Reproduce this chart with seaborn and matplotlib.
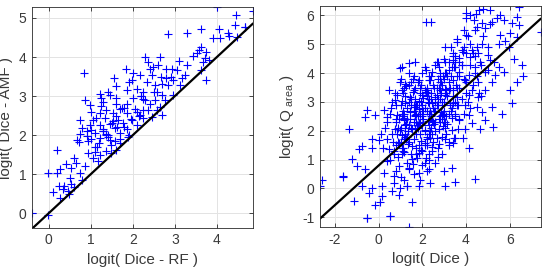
import numpy as np
import seaborn as sns
import matplotlib
matplotlib.use("Agg")
import matplotlib.pyplot as plt

# left panel: logit(Dice - RF) vs logit(Dice - AMF)
rf_x = [4.01, 4.86, 4.45, 4.43, 4.67, 4.06, 3.63, 3.28, 2.83, 4.27, 4.47, 4.28, 3.91, 4.07, 4.67,
        3.63, 3.58, 3.73, 3.52, 3.44, 2.30, 2.64, 3.72, 3.68, 3.82, 2.37, 2.49, 3.28, 0.84, 1.83,
        2.79, 2.94, 3.06, 3.62, 3.73, 2.00, 2.17, 2.45, 2.68, 2.80, 2.96, 3.16, 3.24, 1.97, 2.33,
        2.53, 2.84, 3.12, 1.61, 1.85, 2.09, 2.25, 2.57, 1.41, 1.21, 1.45, 2.70, 2.96, 0.86, 2.00,
        2.25, 2.53, 2.76, 0.98, 1.25, 1.59, 1.85, 2.41, 2.64, 1.37, 1.69, 2.05, 2.25, 2.57, 1.21,
        1.53, 1.85, 2.17, 2.45, 2.69, 0.74, 1.05, 1.33, 1.65, 1.97, 2.25, 0.98, 1.21, 1.45, 1.77,
        2.09, 0.78, 1.01, 1.29, 1.57, 1.85, 0.74, 1.09, 1.37, 1.69,
        0.20, 0.66, 0.72, 0.91, 0.93, 1.21, 1.45, 1.57, 1.69, 0.94, 1.09, 1.21, 1.37, 1.49, 1.61,
        1.17, 0.86, 0.42, 0.53, 0.64, 0.26, -0.02, 0.20, 0.74, 0.80, 0.53, 0.37, 0.59, 0.23, 0.34,
        0.46, 0.10, 0.26, 0.48, -0.40, -0.02,
        1.12, 1.30, 1.52, 1.75, 1.40, 1.62, 1.95, 1.15, 1.36, 1.78, 2.15, 1.05, 1.48, 1.88, 2.35,
        1.60, 1.90, 2.20, 1.30, 1.00,
        1.00, 1.20, 1.40, 1.60, 1.80, 1.10, 1.30, 1.50, 1.70, 1.90, 2.10, 2.30, 2.50, 2.70, 2.90,
        3.10, 2.20, 2.40, 2.60, 0.90, 0.60, 0.50, 1.25, 1.55]
amf_y = [5.29, 5.19, 5.08, 4.82, 4.78, 4.71, 4.73, 4.61, 4.58, 4.61, 4.52, 4.55, 4.48, 4.48, 4.76,
         4.26, 4.18, 4.14, 4.10, 4.03, 4.01, 4.01, 3.97, 3.88, 3.92, 3.86, 3.75, 3.79, 3.60, 3.69,
         3.69, 3.69, 3.67, 3.67, 3.41, 3.60, 3.54, 3.54, 3.50, 3.47, 3.41, 3.47, 3.54, 3.41, 3.37,
         3.28, 3.28, 3.28, 3.26, 3.15, 3.19, 3.11, 3.11, 3.11, 3.05, 3.03, 3.03, 3.03, 2.90, 2.95,
         2.92, 2.90, 2.90, 2.77, 2.75, 2.80, 2.80, 2.80, 2.73, 2.64, 2.68, 2.68, 2.64, 2.64, 2.56,
         2.56, 2.56, 2.52, 2.47, 2.52, 2.38, 2.38, 2.43, 2.38, 2.38, 2.43, 2.26, 2.26, 2.28, 2.31,
         2.26, 2.17, 2.13, 2.15, 2.17, 2.15, 2.04, 2.05, 2.04, 2.05,
         1.62, 1.87, 1.82, 1.97, 1.84, 1.92, 1.88, 1.84, 1.91, 1.55, 1.56, 1.50, 1.58, 1.55, 1.63,
         1.33, 1.21, 1.25, 1.16, 1.29, 1.12, 1.03, 1.03, 1.03, 0.86, 0.74, 0.69, 0.68, 0.69, 0.61,
         0.56, 0.54, 0.39, 0.49, 0.01, -0.06,
         2.45, 2.85, 2.35, 2.70, 1.95, 2.20, 2.40, 1.70, 2.00, 2.20, 2.50, 1.40, 1.75, 1.95, 2.65,
         2.95, 3.35, 3.00, 2.10, 1.90,
         2.60, 1.80, 2.00, 2.50, 2.70, 1.70, 2.10, 2.30, 1.80, 2.00, 2.60, 2.90, 3.10, 3.30, 3.50,
         3.90, 3.00, 3.70, 3.80, 2.10, 1.40, 0.90, 2.95, 3.45]

# right panel: logit(Dice) vs logit(Q_area)
dice_x = [2.18, 2.41, 4.77, 4.19, 4.48, 5.11, 5.57, 6.41, 6.33, 4.35, 4.00, 4.73, 5.19, 5.72, 6.10,
          6.41, 7.44, 4.42, 4.88, 5.57, 6.03, 6.33, 4.00, 3.58, 3.05, 4.73, 5.49, 5.95, 3.42, 3.88,
          4.27, 4.57, 5.03, 3.66, 4.19, 4.65, 5.11, 1.68, 1.37, 2.68, 3.05, 3.42, 1.07, 0.99, 2.14,
          2.75, 3.35, 3.81, 4.42, 5.49, 5.72, 6.56, 2.45, 3.05, 3.66, 4.12, 4.88, 5.34, 1.83, 2.29,
          2.83, 3.42, 3.96, 4.57, 5.19, 6.33, 0.99, 1.22, 0.46, 1.07, 1.68, 2.22, 2.75, 3.20, 3.66,
          4.27, 4.88, 6.03, 0.84, 1.45, 1.98, 2.60, 3.05, 3.58, 4.12, 4.57, 0.76, 0.23, -0.54, -0.61,
          -0.15, 0.38, -1.37, 1.22, 1.68, 2.29, 2.90, 3.42, 3.96, 4.50, 5.19, 6.10, 1.14, 1.68, 2.29,
          2.90, 3.50, 4.12, 4.73, 5.64, 1.14, 1.83, 2.45, 3.05, 3.66, 4.27, 4.88, 5.26, 4.65, 0.99,
          1.52, 2.14, 2.75, 3.35, 3.96,
          -2.70, -2.60, -1.63, -1.22, -0.99, -0.64, -0.89, -0.31, -0.31, 0.00, -1.14, -0.54, -0.15,
          0.08, 0.53, 1.37, 1.52, -0.77, -0.31, 0.13, -0.46, 0.13, 0.59, 0.91, 0.99, 1.30, 1.83,
          2.37, 3.05, 3.50, 4.42, 3.35, 2.98, 2.29, 4.12, 3.86, 3.42, 0.38, 0.23, 0.69, 1.14, 0.91,
          1.37, 1.83, 2.14, 1.52, 1.07, 1.83, 2.45, 2.90, 2.75, 2.14, 1.52, 0.91, 0.46, 0.69, 3.05,
          3.50, -0.77, -1.65, -0.55, 0.52,
          0.60, 0.80, 1.00, 1.10, 1.20, 1.30, 1.40, 1.50, 1.60, 1.70, 1.80, 1.90, 2.00, 2.10, 2.20,
          2.30, 2.40, 2.50, 2.60, 2.70, 2.80, 2.90, 3.00, 3.10, 3.20, 3.30, 3.40, 0.70, 0.90, 1.10,
          1.30, 1.50, 1.70, 1.90, 2.10, 2.30, 2.50, 2.70, 2.90, 3.10, 1.00, 1.20, 1.40, 1.60, 1.80,
          2.00, 2.20, 2.40, 2.60, 2.80, 3.00, 3.20, 3.40, 3.60, 3.80, 3.90, 4.10, 4.30, 4.40, 4.60,
          0.40, 0.50, 0.30, 0.20, 0.10, 0.60, 0.80, 1.05, 1.25, 1.45, 1.65, 1.85, 2.05, 2.25, 2.45,
          2.65, 2.85, 3.05, 3.25, 1.15, 1.35, 1.55, 1.75, 1.95, 2.15, 2.35, 2.55, 2.75, 2.95, 1.90,
          2.00, 2.10, 2.20, 2.30, 2.40, 1.60, 1.70, 1.50, 1.40, 1.30, 2.60, 2.70, 2.80, 2.90, 3.00,
          3.10, 3.30, 3.50, 3.70, 3.90, 4.00, 4.20, 4.50, 3.60, 3.50, 0.90, 0.75, 1.15, 1.95, 2.45,
          2.65, 3.15, 3.35, 3.45, 3.65, 1.85, 2.15, 2.35, 1.55, 1.25, 1.05, 0.85,
          0.55, 0.75, 0.95, 1.15, 1.35, 1.55, 1.75, 1.95, 2.15, 2.35, 2.55, 2.75, 2.95, 3.15, 3.35,
          3.55, 0.65, 0.85, 1.05, 1.25, 1.45, 1.65, 1.85, 2.05, 2.25, 2.45, 2.65, 2.85, 3.05, 3.25,
          3.45, 3.65, 1.00, 1.40, 1.80, 2.20, 2.60, 3.00, 3.40, 3.80, 1.20, 1.60, 2.00, 2.40, 2.80,
          3.20, 3.60, 4.00, 0.40, 0.80, 1.20, 1.60, 2.00, 2.40, 2.80, 3.20, 1.10, 1.50, 1.90, 2.30,
          2.70, 3.10, 3.50, 3.90, 4.30, 2.00, 2.50, 3.00, 3.50, 4.00, 4.50, 5.00, 1.70, 2.20, 2.70,
          3.20, 3.70, 4.20, 4.70,
          3.30, 3.60, 3.90, 4.20, 4.50, 4.80, 5.10, 3.50, 3.80, 4.10, 4.40, 4.70, 5.00, 5.30, 4.00,
          4.60, 5.40, 5.80, 6.20, 6.60, 3.20, 3.70,
          0.50, 0.80, 1.10, 1.40, 1.70, 2.00, 2.30, 2.60, 0.70, 1.00, 1.30, 1.60, 1.90, 2.20,
          0.90, 1.10, 1.30, 1.50, 1.70, 1.90, 2.10, 2.30, 2.50, 2.70, 2.90, 3.10, 0.80, 1.00, 1.20,
          1.40, 1.60, 1.80, 2.00, 2.20, 2.40, 2.60, 2.80, 3.00, 1.05, 1.35, 1.65, 1.95, 2.25, 2.55,
          2.85, 3.15, 1.15, 1.45, 1.75, 2.05, 2.35, 2.65, 2.95, 3.25]
qarea_y = [5.78, 5.78, 6.21, 6.02, 6.06, 6.19, 6.02, 6.31, 5.96, 5.84, 5.90, 5.73, 5.78, 5.84, 5.73,
           5.67, 5.44, 5.50, 5.55, 5.32, 5.38, 5.27, 5.32, 5.09, 4.92, 5.02, 5.02, 4.92, 4.69, 4.74,
           4.80, 4.69, 4.63, 4.51, 4.57, 4.40, 4.45, 4.40, 4.34, 4.40, 4.40, 4.45, 4.22, 4.17, 4.22,
           4.22, 4.22, 4.28, 4.22, 4.22, 4.05, 4.28, 4.05, 3.99, 4.05, 3.93, 4.05, 3.93, 3.76, 3.76,
           3.70, 3.76, 3.76, 3.70, 3.70, 3.70, 3.70, 3.64, 3.41, 3.41, 3.47, 3.41, 3.47, 3.41, 3.47,
           3.41, 3.41, 3.41, 3.24, 3.18, 3.24, 3.18, 3.24, 3.18, 3.24, 3.18, 3.07, 2.72, 2.72, 2.49,
           2.55, 2.49, 2.08, 2.95, 2.84, 2.95, 2.89, 2.95, 2.89, 2.84, 2.84, 2.95, 2.60, 2.55, 2.60,
           2.55, 2.60, 2.55, 2.66, 2.60, 2.37, 2.26, 2.37, 2.31, 2.37, 2.26, 2.37, 2.14, 2.08, 2.02,
           2.08, 2.02, 2.08, 2.02, 2.08,
           0.08, 0.28, 0.40, 1.01, 0.77, 0.66, 1.38, 1.42, 1.70, 1.67, -0.44, -1.02, -0.56,
           -0.48, -0.96, -1.34, -0.48, 0.08, 0.02, 0.08, -0.15, -0.27, -0.09, -0.21, 0.02, 0.08, 0.08,
           0.19, 0.08, 0.22, 0.33, 0.72, 0.60, 0.66, 1.41, 1.76, 1.59, 0.95, 0.54, 0.45, 0.31, 0.77,
           0.66, 0.54, 0.89, 1.01, 1.18, 1.24, 1.30, 1.18, 1.53, 1.59, 1.47, 1.59, 1.36, 1.18, 1.70,
           1.76, 1.47, 0.43, -1.02, -0.94,
           1.90, 2.30, 1.60, 2.70, 1.90, 2.40, 3.00, 2.10, 1.70, 2.90, 2.50, 3.30, 2.20, 2.80, 1.80,
           3.10, 2.50, 3.60, 2.00, 2.90, 3.40, 2.40, 3.00, 1.90, 3.70, 2.70, 3.20, 1.30, 1.10, 1.40,
           0.90, 1.20, 1.40, 1.90, 1.50, 1.20, 1.60, 1.40, 1.80, 2.50, 2.10, 3.20, 3.60, 3.90, 3.70,
           4.00, 3.50, 3.90, 4.30, 3.90, 4.50, 4.10, 4.60, 3.50, 3.10, 2.60, 3.00, 3.60, 4.00, 3.30,
           1.70, 2.60, 2.10, 1.40, 1.90, 3.00, 2.90, 1.85, 2.25, 2.65, 2.05, 2.75, 3.15, 2.35, 2.95,
           3.25, 2.65, 3.45, 2.95, 1.25, 1.55, 0.85, 1.05, 1.35, 1.05, 1.75, 2.25, 2.05, 2.15, 2.30,
           2.60, 2.00, 2.70, 2.20, 3.30, 2.30, 2.60, 2.90, 2.20, 2.80, 2.70, 3.10, 2.30, 3.60, 2.70,
           3.30, 3.90, 4.20, 4.40, 3.80, 4.70, 4.30, 4.90, 2.90, 2.50, 1.60, 2.05, 2.45, 1.65, 1.45,
           1.75, 2.25, 2.45, 1.75, 2.05, 3.05, 3.35, 3.75, 3.35, 3.55, 3.05, 2.55,
           2.80, 3.30, 2.40, 3.50, 2.00, 3.80, 2.20, 3.00, 4.10, 2.70, 3.50, 2.40, 3.90, 3.20, 2.80,
           3.60, 1.60, 1.90, 2.60, 1.70, 2.40, 3.10, 1.50, 2.70, 3.30, 1.90, 2.90, 3.70, 2.10, 3.50,
           4.20, 2.90, 3.80, 4.00, 2.20, 1.70, 2.30, 3.80, 3.40, 4.30, 1.80, 2.90, 2.50, 3.10, 3.10,
           2.60, 3.90, 3.70, 2.30, 1.50, 2.10, 2.70, 1.30, 2.10, 2.50, 1.60, 3.30, 3.70, 3.50, 3.90,
           4.40, 4.00, 4.60, 4.90, 4.70, 2.90, 2.30, 2.50, 3.00, 3.30, 3.90, 4.10, 1.90, 1.50, 1.10,
           1.50, 2.40, 2.80, 3.20,
           4.90, 5.20, 5.50, 5.00, 5.60, 5.30, 5.70, 4.40, 4.80, 5.30, 4.60, 4.30, 4.90, 4.40, 6.10,
           6.20, 5.90, 5.10, 4.50, 3.90, 4.40, 3.90,
           1.00, 0.60, 1.30, 0.70, 1.20, 0.80, 1.00, 0.90, 0.20, 0.40, 0.10, 0.50, 0.30, 0.60,
           2.10, 2.50, 1.80, 3.10, 2.30, 2.60, 3.40, 1.90, 2.80, 3.80, 3.00, 3.40, 2.40, 2.90, 2.20,
           1.60, 3.40, 2.10, 2.80, 3.20, 2.60, 3.00, 4.00, 2.30, 1.40, 2.00, 2.50, 3.60, 3.00, 2.70,
           3.30, 3.90, 1.70, 2.70, 2.90, 2.40, 2.00, 3.50, 2.60, 2.90]

fit_slope = 0.685
fit_intercept = 0.80

left_xticks = [0, 1, 2, 3, 4]
left_yticks = [0, 1, 2, 3, 4, 5]
right_xticks = [-2, 0, 2, 4, 6]
right_yticks = [-1, 0, 1, 2, 3, 4, 5, 6]

sns.set_style("whitegrid")
plt.rcParams['font.family'] = ['Liberation Sans', 'DejaVu Sans']
plt.rcParams['mathtext.fontset'] = 'custom'
plt.rcParams['mathtext.rm'] = 'Liberation Sans'

fig = plt.figure(figsize=(5.43, 2.72), dpi=100)
ax1 = fig.add_axes([0.059, 0.162, 0.407, 0.812])
ax2 = fig.add_axes([0.589, 0.165, 0.407, 0.813])

text_color = '#3a3a3a'


def style_axes(ax, xlim, ylim, xticks, yticks):
    ax.set_xlim(*xlim)
    ax.set_ylim(*ylim)
    ax.set_xticks(xticks)
    ax.set_yticks(yticks)
    ax.set_xticklabels([str(t) for t in xticks])
    ax.set_yticklabels([str(t) for t in yticks])
    ax.grid(True, color='#e3e3e3', linewidth=0.7)
    for s in ax.spines.values():
        s.set_visible(True)
        s.set_color('#2a2a2a')
        s.set_linewidth(0.6)
    ax.tick_params(direction='in', length=3, width=0.6, color='#2a2a2a',
                   labelcolor=text_color, labelsize=10, pad=4,
                   top=True, right=True, bottom=True, left=True)


def plus_scatter(ax, x, y):
    sns.scatterplot(x=x, y=y, marker='+', color='blue', s=34, linewidth=0.8, ax=ax)
    pts = ax.collections[-1]
    pts.set_edgecolor('blue')
    pts.set_facecolor('blue')


# left panel
plus_scatter(ax1, rf_x, amf_y)
lims1 = np.array([-0.4, 4.86])
ax1.plot(lims1, lims1, color='black', linewidth=1.6)
style_axes(ax1, (-0.4, 4.86), (-0.38, 5.28), left_xticks, left_yticks)
ax1.set_xlabel('logit( Dice - RF )', fontsize=11, color=text_color, labelpad=4)
ax1.set_ylabel('logit( Dice - AMF )', fontsize=11, color=text_color, labelpad=4)

# right panel
plus_scatter(ax2, dice_x, qarea_y)
lims2 = np.array([-2.7, 7.43])
ax2.plot(lims2, fit_slope * lims2 + fit_intercept, color='black', linewidth=1.6)
style_axes(ax2, (-2.7, 7.43), (-1.34, 6.33), right_xticks, right_yticks)
ax2.set_xlabel('logit( Dice )', fontsize=11, color=text_color, labelpad=4)
ax2.set_ylabel('logit( Q$_{\\ \\mathregular{area}}$ )', fontsize=11, color=text_color, labelpad=4)

fig.savefig('out.png', dpi=100)
